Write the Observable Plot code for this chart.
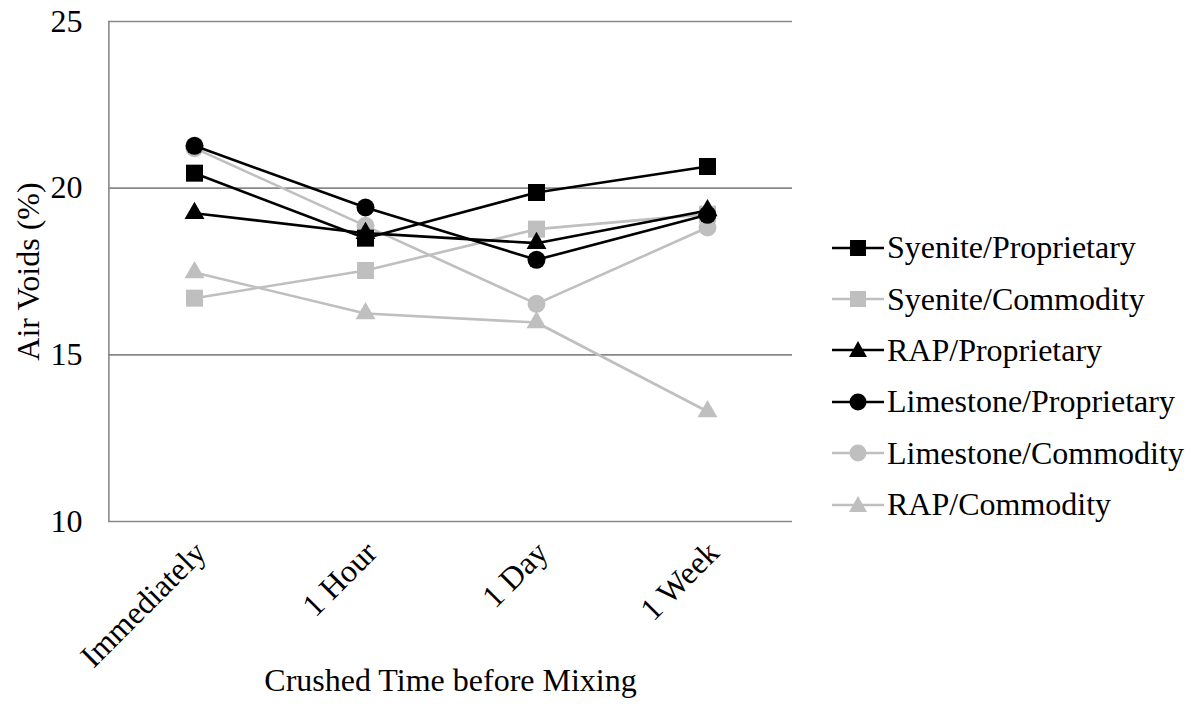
<!DOCTYPE html>
<html>
<head>
<meta charset="utf-8">
<script src="https://cdn.jsdelivr.net/npm/d3@7"></script>
<script src="https://cdn.jsdelivr.net/npm/@observablehq/plot@0.6"></script>
<style>
  html, body { margin: 0; padding: 0; background: #fff; }
  #wrap { position: relative; width: 1195px; height: 725px; font-family: "Liberation Serif", "Times New Roman", serif; }
  #legend { position: absolute; left: 832px; top: 222px; }
  .item { display: flex; align-items: center; height: 51.4px; font-size: 32px; color: #000; }
  .item svg { margin-right: 1px; }
</style>
</head>
<body>
<div id="wrap"><div id="legend"></div></div>
<script>
const times = ["Immediately", "1 Hour", "1 Day", "1 Week"];
const seriesNames = ["Syenite/Proprietary", "Syenite/Commodity", "RAP/Proprietary", "Limestone/Proprietary", "Limestone/Commodity", "RAP/Commodity"];
const seriesColors = ["#000000", "#bfbfbf", "#000000", "#000000", "#bfbfbf", "#bfbfbf"];
const seriesSymbols = ["square", "square", "triangle", "circle", "circle", "triangle"];
const syeniteProprietary = [20.45, 18.5, 19.87, 20.65];
const syeniteCommodity = [16.7, 17.53, 18.77, 19.22];
const rapProprietary = [19.25, 18.65, 18.35, 19.33];
const limestoneProprietary = [21.27, 19.42, 17.85, 19.2];
const limestoneCommodity = [21.2, 18.87, 16.53, 18.82];
const rapCommodity = [17.47, 16.24, 15.97, 13.3];
const seriesValues = [syeniteProprietary, syeniteCommodity, rapProprietary, limestoneProprietary, limestoneCommodity, rapCommodity];
const yTicks = [10, 15, 20, 25];

const data = [];
seriesNames.forEach((s, i) => times.forEach((t, j) => data.push({
  series: s, time: t, value: seriesValues[i][j],
  color: seriesColors[i], symbol: seriesSymbols[i], order: i
})));
const gray = data.filter(d => d.color !== "#000000");
const black = data.filter(d => d.color === "#000000");
const rFor = {square: 9.6, circle: 9, triangle: 7.4};

function layer(rows) {
  return [
    Plot.line(rows, {x: "time", y: "value", z: "series", stroke: "color", strokeWidth: 2.6}),
    ...["square", "circle", "triangle"].map(sym =>
      Plot.dot(rows.filter(d => d.symbol === sym), {x: "time", y: "value", symbol: () => sym, fill: "color", stroke: "none", r: rFor[sym]}))
  ];
}

const FS = 32;
const chart = Plot.plot({
  width: 1195, height: 725,
  marginLeft: 108, marginRight: 403, marginTop: 21, marginBottom: 204,
  style: {fontFamily: "'Liberation Serif', 'Times New Roman', serif", fontSize: FS + "px", color: "#000", background: "#fff"},
  x: {type: "point", domain: times, padding: 0.5, label: null},
  y: {domain: [10, 25], ticks: yTicks, label: null},
  color: {type: "identity"},
  symbol: {type: "identity"},
  marks: [
    Plot.ruleY(yTicks, {stroke: "#888888", strokeWidth: 1.6}),
    Plot.ruleX([0], {x: () => times[0], dx: -85.6, y1: 10, y2: 25, stroke: "#888888", strokeWidth: 1.6}),
    Plot.axisY({ticks: yTicks, tickSize: 0, tickPadding: 26, fontSize: FS, label: null}),
    Plot.axisX({tickSize: 0, tickPadding: 26, dx: 6, tickRotate: -45, fontSize: FS, label: null}),
    Plot.text(["Air Voids (%)"], {frameAnchor: "left", textAnchor: "middle", dx: -80, rotate: -90, fontSize: FS, text: d => d}),
    Plot.text(["Crushed Time before Mixing"], {frameAnchor: "bottom", dy: 169, fontSize: FS, text: d => d}),
    ...layer(gray),
    ...layer(black)
  ]
});
document.getElementById("wrap").prepend(chart);

const legend = document.getElementById("legend");
seriesNames.forEach((s, i) => {
  const item = document.createElement("div");
  item.className = "item";
  const c = seriesColors[i];
  let marker;
  if (seriesSymbols[i] === "square") marker = `<rect x="18" y="7" width="16" height="16" fill="${c}"/>`;
  else if (seriesSymbols[i] === "circle") marker = `<circle cx="26" cy="15" r="8.5" fill="${c}"/>`;
  else marker = `<path d="M26,6 L35,22 L17,22 Z" fill="${c}"/>`;
  item.innerHTML = `<svg width="54" height="30"><line x1="0" x2="52" y1="15" y2="15" stroke="${c}" stroke-width="2.5"/>${marker}</svg><span>${s}</span>`;
  legend.appendChild(item);
});
</script>
</body>
</html>
